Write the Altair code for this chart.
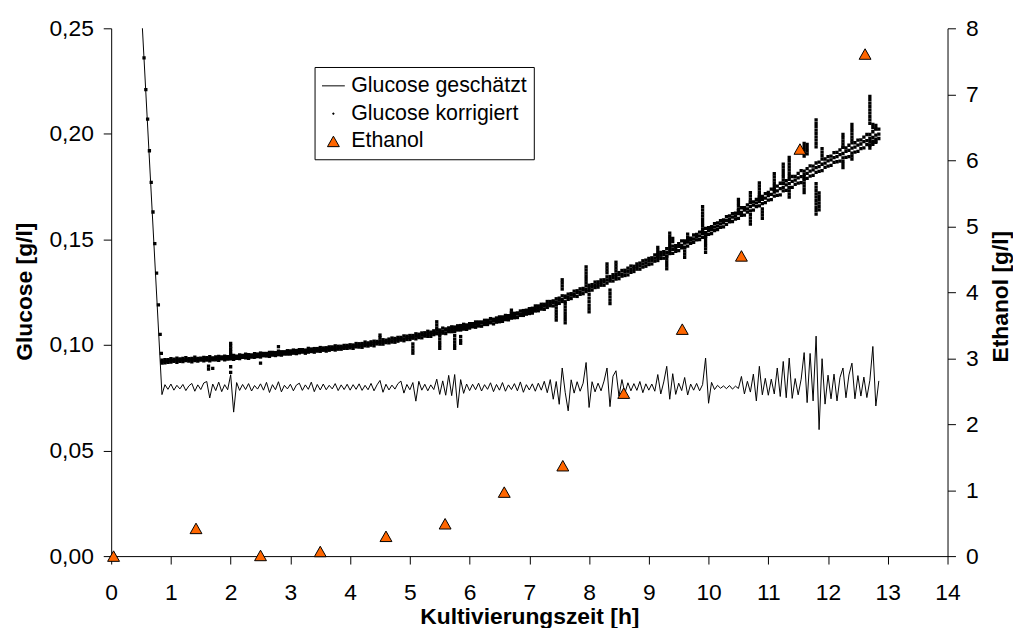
import altair as alt
import pandas as pd

# ---------------- data (glucose values in 1e-4 g/l) ----------------
t = [0.85, 0.90, 0.95,
     1.00, 1.05, 1.10, 1.15, 1.20, 1.25, 1.30, 1.35, 1.40, 1.45, 1.50, 1.55, 1.60, 1.65, 1.70, 1.75, 1.80, 1.85, 1.90, 1.95,
     2.00, 2.05, 2.10, 2.15, 2.20, 2.25, 2.30, 2.35, 2.40, 2.45, 2.50, 2.55, 2.60, 2.65, 2.70, 2.75, 2.80, 2.85, 2.90, 2.95,
     3.00, 3.05, 3.10, 3.15, 3.20, 3.25, 3.30, 3.35, 3.40, 3.45, 3.50, 3.55, 3.60, 3.65, 3.70, 3.75, 3.80, 3.85, 3.90, 3.95,
     4.00, 4.05, 4.10, 4.15, 4.20, 4.25, 4.30, 4.35, 4.40, 4.45, 4.50, 4.55, 4.60, 4.65, 4.70, 4.75, 4.80, 4.85, 4.90, 4.95,
     5.00, 5.05, 5.10, 5.15, 5.20, 5.25, 5.30, 5.35, 5.40, 5.45, 5.50, 5.55, 5.60, 5.65, 5.70, 5.75, 5.80, 5.85, 5.90, 5.95,
     6.00, 6.05, 6.10, 6.15, 6.20, 6.25, 6.30, 6.35, 6.40, 6.45, 6.50, 6.55, 6.60, 6.65, 6.70, 6.75, 6.80, 6.85, 6.90, 6.95,
     7.00, 7.05, 7.10, 7.15, 7.20, 7.25, 7.30, 7.35, 7.40, 7.45, 7.50, 7.55, 7.60, 7.65, 7.70, 7.75, 7.80, 7.85, 7.90, 7.95,
     8.00, 8.05, 8.10, 8.15, 8.20, 8.25, 8.30, 8.35, 8.40, 8.45, 8.50, 8.55, 8.60, 8.65, 8.70, 8.75, 8.80, 8.85, 8.90, 8.95,
     9.00, 9.05, 9.10, 9.15, 9.20, 9.25, 9.30, 9.35, 9.40, 9.45, 9.50, 9.55, 9.60, 9.65, 9.70, 9.75, 9.80, 9.85, 9.90, 9.95,
     10.00, 10.05, 10.10, 10.15, 10.20, 10.25, 10.30, 10.35, 10.40, 10.45, 10.50, 10.55, 10.60, 10.65, 10.70, 10.75, 10.80, 10.85, 10.90, 10.95,
     11.00, 11.05, 11.10, 11.15, 11.20, 11.25, 11.30, 11.35, 11.40, 11.45, 11.50, 11.55, 11.60, 11.65, 11.70, 11.75, 11.80, 11.85, 11.90, 11.95,
     12.00, 12.05, 12.10, 12.15, 12.20, 12.25, 12.30, 12.35, 12.40, 12.45, 12.50, 12.55, 12.60, 12.65, 12.70, 12.75, 12.80, 12.85]

# Glucose geschätzt (line)
est_drop_t = [0.50]
est_drop_g = [2620]
g_est = [765, 812, 790,
         815, 786, 809, 792, 813, 784, 806, 818, 781, 811, 789, 820, 827, 749, 815, 784, 824, 779, 812, 788,
         859, 682, 822, 785, 813, 789, 817, 782, 808, 791, 816, 786, 823, 775, 812, 788, 826, 778, 809, 792,
         814, 783, 810, 819, 785, 811, 790, 824, 779, 813, 787, 815, 788, 809, 792, 817, 784, 811, 789, 814,
         786, 812, 790, 816, 785, 809, 788, 818, 783, 811, 832, 776, 814, 787, 810, 791, 817, 829, 772, 813,
         788, 822, 734, 828, 786, 814, 783, 811, 789, 838, 766, 830, 762, 856, 760, 860, 703, 836, 771, 815,
         784, 814, 788, 819, 782, 812, 790, 821, 779, 813, 786, 822, 781, 811, 789, 817, 783, 825, 776, 812,
         787, 816, 781, 819, 786, 828, 774, 836, 743, 827, 719, 891, 776, 688, 835, 772, 826, 781, 819, 917,
         704, 826, 778, 819, 783, 829, 891, 708, 852, 878, 758, 836, 772, 821, 783, 817, 785, 827, 774, 816,
         786, 815, 781, 860, 768, 825, 899, 743, 864, 766, 819, 784, 846, 763, 815, 786, 818, 783, 812, 938,
         724, 823, 789, 809, 795, 806, 793, 808, 791, 805, 794, 851, 768, 828, 777, 862, 735, 899, 764, 842,
         762, 838, 768, 891, 756, 922, 750, 938, 747, 841, 764, 838, 964, 727, 960, 735, 1042, 599, 935, 720,
         857, 745, 862, 735, 846, 891, 750, 858, 914, 745, 855, 758, 848, 751, 833, 993, 711, 830]

# Glucose korrigiert (dots): initial decline
kor_drop_t = [0.50, 0.52, 0.55, 0.58, 0.61, 0.64, 0.67, 0.70, 0.73, 0.76, 0.79, 0.82, 0.84]
kor_drop_g = [2600, 2510, 2360, 2210, 2070, 1920, 1770, 1630, 1480, 1340, 1190, 1050, 960]

# Glucose korrigiert: upper, middle and lower scatter of the band
gk_a = [928, 931, 930,
        935, 933, 938, 934, 936, 940, 935, 937, 942, 936, 938, 941, 940, 945, 939, 944, 946, 943, 947, 945,
        948, 951, 947, 953, 951, 957, 954, 953, 959, 957, 962, 960, 960, 965, 965, 964, 971, 968, 968, 973,
        972, 976, 974, 978, 978, 976, 984, 981, 983, 983, 988, 986, 987, 991, 991, 996, 994, 994, 998, 998,
        1001, 1000, 1007, 1006, 1007, 1014, 1010, 1015, 1018, 1017, 1020, 1025, 1023, 1028, 1033, 1031, 1036, 1036, 1043, 1042,
        1045, 1045, 1053, 1051, 1057, 1058, 1065, 1061, 1067, 1071, 1071, 1080, 1076, 1081, 1086, 1085, 1091, 1092, 1098, 1095,
        1101, 1101, 1109, 1109, 1109, 1117, 1117, 1125, 1122, 1128, 1133, 1133, 1140, 1139, 1150, 1150, 1152, 1161, 1163, 1165,
        1172, 1174, 1185, 1185, 1193, 1193, 1206, 1206, 1209, 1219, 1222, 1233, 1232, 1241, 1243, 1255, 1257, 1266, 1268, 1280,
        1283, 1286, 1298, 1299, 1308, 1309, 1323, 1324, 1333, 1334, 1343, 1353, 1354, 1364, 1374, 1373, 1384, 1388, 1399, 1402,
        1410, 1413, 1427, 1429, 1439, 1442, 1456, 1458, 1468, 1470, 1480, 1493, 1493, 1504, 1506, 1521, 1524, 1535, 1538, 1552,
        1556, 1560, 1575, 1578, 1589, 1593, 1608, 1611, 1622, 1625, 1636, 1650, 1651, 1664, 1677, 1678, 1690, 1702, 1704, 1717,
        1723, 1738, 1737, 1752, 1766, 1765, 1778, 1784, 1798, 1798, 1813, 1826, 1824, 1835, 1848, 1847, 1862, 1866, 1881, 1881,
        1892, 1895, 1911, 1912, 1924, 1936, 1933, 1946, 1957, 1958, 1970, 1972, 1985, 1997, 1997, 2010, 2022, 2022]
gk_m = [921, 923, 924,
        927, 926, 929, 928, 930, 928, 931, 929, 933, 930, 933, 932, 935, 933, 936, 935, 938, 937, 940, 938,
        941, 940, 944, 943, 946, 945, 949, 947, 951, 950, 954, 952, 956, 955, 959, 957, 961, 960, 964, 963,
        966, 965, 969, 968, 972, 970, 974, 973, 977, 976, 979, 978, 983, 981, 985, 984, 988, 987, 990, 992,
        993, 995, 995, 1000, 999, 1004, 1003, 1008, 1007, 1012, 1011, 1016, 1015, 1021, 1020, 1026, 1025, 1030, 1029, 1035,
        1036, 1037, 1042, 1042, 1048, 1048, 1053, 1053, 1059, 1058, 1064, 1064, 1070, 1069, 1075, 1075, 1081, 1081, 1086, 1086,
        1092, 1092, 1098, 1098, 1104, 1104, 1110, 1110, 1116, 1116, 1122, 1123, 1130, 1131, 1138, 1139, 1146, 1147, 1154, 1155,
        1162, 1164, 1172, 1174, 1182, 1184, 1192, 1194, 1202, 1204, 1212, 1215, 1224, 1227, 1236, 1239, 1248, 1251, 1260, 1263,
        1272, 1275, 1284, 1287, 1296, 1299, 1308, 1311, 1320, 1323, 1332, 1336, 1345, 1349, 1358, 1362, 1371, 1375, 1384, 1388,
        1397, 1401, 1411, 1415, 1425, 1429, 1439, 1443, 1453, 1457, 1467, 1472, 1482, 1487, 1497, 1502, 1512, 1517, 1527, 1532,
        1542, 1547, 1558, 1563, 1574, 1579, 1590, 1595, 1606, 1611, 1622, 1628, 1639, 1645, 1656, 1662, 1673, 1679, 1690, 1696,
        1707, 1713, 1724, 1730, 1741, 1747, 1758, 1764, 1775, 1781, 1792, 1797, 1808, 1813, 1824, 1829, 1840, 1845, 1856, 1861,
        1872, 1877, 1887, 1892, 1902, 1907, 1917, 1922, 1932, 1937, 1947, 1952, 1963, 1968, 1978, 1983, 1994, 1999]
gk_b = [914, 915, 918,
        919, 923, 918, 923, 921, 926, 924, 920, 926, 924, 928, 925, 928, 925, 930, 929, 927, 934, 930, 933,
        934, 932, 937, 936, 941, 939, 937, 943, 942, 945, 943, 949, 948, 946, 952, 950, 954, 952, 957, 957,
        957, 961, 959, 963, 966, 961, 966, 969, 966, 971, 970, 975, 971, 975, 979, 976, 980, 980, 984, 984,
        986, 984, 991, 990, 989, 996, 995, 999, 996, 1005, 1004, 1004, 1011, 1010, 1014, 1013, 1018, 1023, 1020, 1026,
        1026, 1032, 1029, 1035, 1034, 1042, 1041, 1041, 1049, 1053, 1051, 1056, 1054, 1063, 1063, 1064, 1071, 1071, 1075, 1074,
        1080, 1086, 1084, 1090, 1089, 1097, 1097, 1105, 1100, 1108, 1110, 1112, 1120, 1119, 1127, 1129, 1130, 1140, 1140, 1146,
        1149, 1151, 1161, 1162, 1170, 1169, 1178, 1186, 1185, 1194, 1197, 1206, 1205, 1216, 1220, 1231, 1230, 1240, 1243, 1253,
        1258, 1260, 1272, 1274, 1283, 1283, 1293, 1303, 1303, 1312, 1314, 1326, 1329, 1332, 1344, 1348, 1359, 1359, 1369, 1373,
        1381, 1384, 1397, 1400, 1410, 1411, 1422, 1433, 1434, 1444, 1447, 1460, 1464, 1468, 1481, 1486, 1498, 1499, 1510, 1515,
        1524, 1528, 1542, 1546, 1557, 1559, 1571, 1583, 1585, 1596, 1600, 1614, 1615, 1629, 1635, 1639, 1655, 1659, 1670, 1674,
        1686, 1689, 1705, 1709, 1711, 1730, 1732, 1745, 1747, 1761, 1767, 1769, 1787, 1789, 1800, 1803, 1818, 1822, 1826, 1841,
        1847, 1851, 1865, 1868, 1871, 1886, 1889, 1892, 1909, 1914, 1917, 1930, 1934, 1949, 1946, 1959, 1964, 1978]

# Glucose korrigiert: vertical streaks of outliers
streak_t = [1.63, 1.70, 2.00, 2.50, 2.80, 4.50, 5.05, 5.45, 5.50, 5.75, 5.85, 6.70,
            7.45, 7.55, 7.60, 7.95, 8.00, 8.30, 8.35, 8.45, 9.15, 9.30, 9.35, 9.40,
            9.60, 9.65, 9.90, 9.95, 10.50, 10.70, 10.85, 10.90, 11.10, 11.25, 11.35,
            11.60, 11.65, 11.80, 11.85, 11.90, 12.25, 12.40, 12.70, 12.75, 12.80]
streak_g = [[886, 900], [889], [1008, 995, 982, 968, 955, 897, 870], [914], [992],
            [1047, 1035], [961, 975, 990, 1005], [1110, 1095, 1080],
            [984, 998, 1012, 1028, 1043], [984, 998, 1013, 1028, 1045], [1008, 1022, 1040],
            [1165, 1152], [1118, 1132, 1146, 1160, 1175, 1190], [1309, 1295, 1280, 1265],
            [1105, 1120, 1135, 1150, 1165, 1180, 1195], [1370, 1355, 1340, 1325, 1310, 1295],
            [1157, 1172, 1188, 1205, 1222, 1240], [1384, 1370, 1356, 1342],
            [1196, 1212, 1228, 1244, 1260], [1392, 1378, 1364, 1350], [1462, 1448, 1434, 1420],
            [1361, 1376, 1391, 1406, 1420], [1530, 1515, 1500, 1485, 1470], [1505, 1490],
            [1415, 1430, 1445, 1460], [1525, 1510, 1495],
            [1655, 1640, 1625, 1610, 1595, 1580, 1565, 1550],
            [1439, 1455, 1470, 1485, 1500, 1515, 1530], [1690, 1675, 1660, 1645],
            [1721, 1706, 1691, 1676, 1572, 1587, 1602, 1617],
            [1768, 1753, 1738, 1723, 1708, 1693], [1600, 1615, 1630, 1645],
            [1811, 1796, 1781, 1766, 1751, 1736], [1857, 1842, 1827, 1812, 1797, 1782, 1767],
            [1888, 1873, 1858, 1843, 1828, 1813, 1798, 1700, 1715, 1730, 1745],
            [1955, 1940, 1925, 1910, 1895, 1722, 1737, 1752, 1767, 1782, 1797],
            [1950, 1935, 1920, 1905],
            [2066, 2050, 2034, 2018, 2002, 1986, 1970, 1954, 1938, 1620, 1636, 1652, 1668,
             1684, 1700, 1716, 1732, 1748, 1764],
            [1640, 1656, 1672, 1688, 1704, 1720], [1930, 1914, 1898],
            [1997, 1982, 1967, 1952, 1937, 1840, 1855, 1870],
            [2045, 2030, 2015, 2000, 1985, 1970, 1880, 1895],
            [2178, 2162, 2146, 2130, 2114, 2098, 2082, 2066, 2050, 1932, 1948, 1964],
            [1950, 1966, 2030, 2045], [2040, 2025, 1960, 1975]]

# Ethanol
eth_t = [0.04, 1.42, 2.50, 3.50, 4.60, 5.59, 6.58, 7.56, 8.58, 9.56, 10.55, 11.53, 12.62]
eth_g = [0.00, 0.42, 0.01, 0.07, 0.30, 0.49, 0.97, 1.37, 2.47, 3.44, 4.55, 6.17, 7.61]

series_names = ["Glucose geschätzt", "Glucose korrigiert", "Ethanol"]
x_ticks = list(range(0, 15))
glc_ticks = [0.0, 0.05, 0.10, 0.15, 0.20, 0.25]
eth_ticks = list(range(0, 9))

# ---------------- tables ----------------
assert len(t) == len(g_est) == len(gk_a) == len(gk_b) == len(gk_m)
df_est = pd.DataFrame({"t": est_drop_t + t,
                       "g": [v / 1e4 for v in est_drop_g + g_est]})
kt, kg = list(kor_drop_t), list(kor_drop_g)
kt += t + t + t
kg += gk_a + gk_m + gk_b
for tt, vals in zip(streak_t, streak_g):
    kt += [tt] * len(vals)
    kg += vals
df_kor = pd.DataFrame({"t": kt, "g": [v / 1e4 for v in kg]})
df_eth = pd.DataFrame({"t": eth_t, "e": eth_g, "series": ["Ethanol"] * len(eth_t)})

FONT = "Liberation Sans"
TICK_FS = 23
TITLE_FS = 23

# symbol shapes (unit box -1..1): legend line, small dot, triangle
SHAPES = ["M-1,0H1", "M-0.05,-0.05H0.05V0.05H-0.05Z", "M0,-0.46L0.52,0.46L-0.52,0.46Z"]
SYM_SIZE = 529

x_enc = alt.X("t:Q", scale=alt.Scale(domain=[0, 14], nice=False, zero=False),
              axis=alt.Axis(values=x_ticks, title="Kultivierungszeit [h]", grid=False,
                            tickSize=8, labelPadding=18, labelFlush=False, labelOverlap=False,
                            domainColor="black", tickColor="black", labelColor="black",
                            labelFont=FONT, labelFontSize=TICK_FS,
                            titleFont=FONT, titleFontSize=TITLE_FS, titleFontWeight="bold",
                            titleColor="black", titleBaseline="alphabetic", titleY=68))

g_axis = alt.Axis(values=glc_ticks, title="Glucose [g/l]", orient="left", grid=False,
                  labelExpr="replace(format(datum.value, '.2f'), '.', ',')",
                  tickSize=8, labelPadding=10, labelOverlap=False,
                  domainColor="black", tickColor="black", labelColor="black",
                  labelFont=FONT, labelFontSize=TICK_FS,
                  titleFont=FONT, titleFontSize=TITLE_FS, titleFontWeight="bold", titleColor="black",
                  titleAngle=270, titleBaseline="alphabetic", titleX=-80, titleY=265)
g_scale = alt.Scale(domain=[0, 0.25], nice=False, zero=False)

line = alt.Chart(df_est).mark_line(color="black", strokeWidth=1, clip=True).encode(
    x=x_enc, y=alt.Y("g:Q", scale=g_scale, axis=g_axis), order="t:Q")
dots = alt.Chart(df_kor).mark_square(size=11, color="black", opacity=1, clip=True).encode(
    x=x_enc, y=alt.Y("g:Q", scale=g_scale, axis=g_axis))
glucose = alt.layer(line, dots)

leg = alt.Legend(title=None, orient="none", legendX=205, legendY=39,
                 strokeColor="black", fillColor="white", padding=7, cornerRadius=0,
                 labelFont=FONT, labelFontSize=21.5, labelColor="black", labelOffset=6,
                 labelLimit=400, rowPadding=5, symbolSize=SYM_SIZE,
                 symbolStrokeWidth=1, symbolOpacity=1)

eth = alt.Chart(df_eth).mark_point(filled=True, strokeWidth=1, opacity=1,
                                   size=SYM_SIZE).encode(
    x=x_enc,
    y=alt.Y("e:Q", scale=alt.Scale(domain=[0, 8], nice=False, zero=False),
            axis=alt.Axis(values=eth_ticks, title="Ethanol [g/l]", orient="right", grid=False,
                          tickSize=8, labelPadding=10, labelOverlap=False,
                          domainColor="black", tickColor="black", labelColor="black",
                          labelFont=FONT, labelFontSize=TICK_FS,
                          titleFont=FONT, titleFontSize=TITLE_FS, titleFontWeight="bold",
                          titleColor="black", titleAngle=270, titleBaseline="alphabetic",
                          titleX=60, titleY=270)),
    fill=alt.Fill("series:N", scale=alt.Scale(domain=series_names, range=["black", "black", "#FF6600"]), legend=leg),
    stroke=alt.Stroke("series:N", scale=alt.Scale(domain=series_names, range=["black", "black", "black"]), legend=leg),
    shape=alt.Shape("series:N", scale=alt.Scale(domain=series_names, range=SHAPES), legend=leg),
)

chart = alt.layer(glucose, eth).resolve_scale(y="independent").properties(
    width=843, height=532,
    padding={"left": 104, "top": 18, "right": 66, "bottom": 70},
    autosize=alt.AutoSizeParams(type="none"),
).configure(font=FONT).configure_view(stroke="transparent")

chart.save("out.html", embed_options={"renderer": "svg", "actions": False})
